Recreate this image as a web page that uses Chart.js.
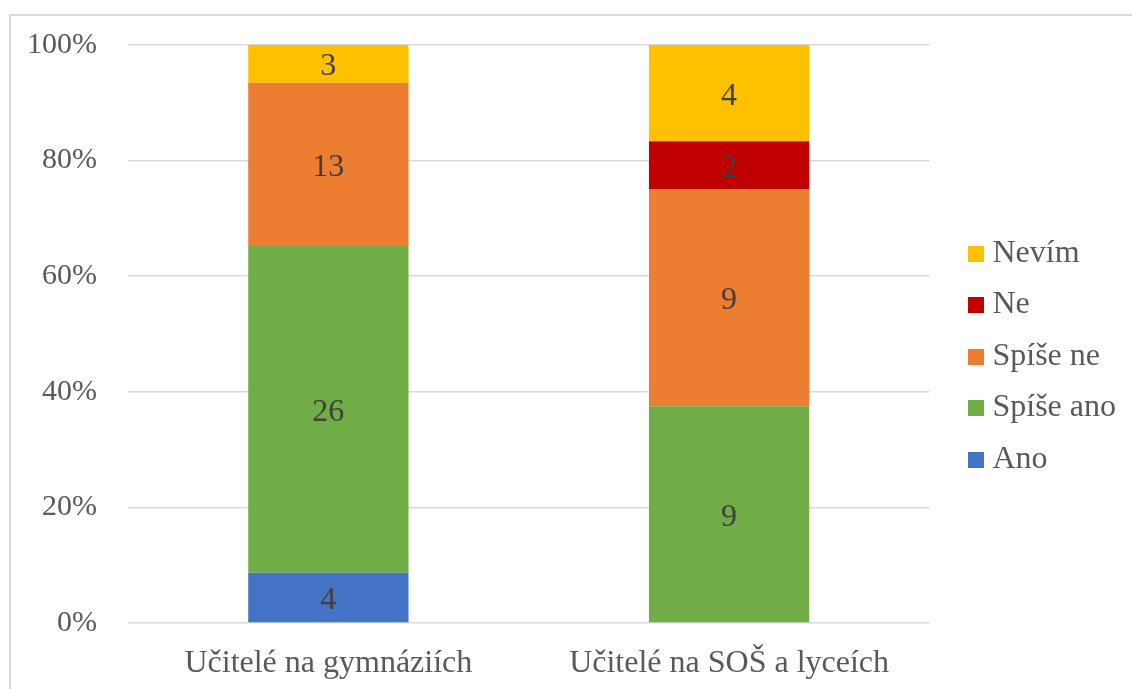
<!DOCTYPE html>
<html>
<head>
<meta charset="utf-8">
<script src="https://cdn.jsdelivr.net/npm/chart.js@4"></script>
<style>
html,body{margin:0;padding:0;background:#fff;overflow:hidden;}
#wrap{position:relative;width:1132px;height:689px;}
#frame{position:absolute;left:9px;top:14px;width:1140px;height:700px;border:2px solid #d9d9d9;box-sizing:border-box;pointer-events:none;}
canvas{position:absolute;left:0;top:0;}
</style>
</head>
<body>
<div id="wrap">
<canvas id="c" width="1132" height="689"></canvas>
<div id="frame"></div>
</div>
<script>
const categories = ["Učitelé na gymnáziích", "Učitelé na SOŠ a lyceích"];
const seriesNames = ["Ano", "Spíše ano", "Spíše ne", "Ne", "Nevím"];
const ano = [4, 0];
const spiseAno = [26, 9];
const spiseNe = [13, 9];
const ne = [0, 2];
const nevim = [3, 4];
const yTicks = [0, 20, 40, 60, 80, 100];
const colors = ["#4472C4", "#70AD47", "#ED7D31", "#C00000", "#FFC000"];

const counts = [ano, spiseAno, spiseNe, ne, nevim];
const totals = categories.map((_, i) => counts.reduce((s, arr) => s + arr[i], 0));

const FONT = "'Liberation Serif', 'Times New Roman', serif";

function swatch(color) {
  const cv = document.createElement('canvas');
  cv.width = 16; cv.height = 16;
  const g = cv.getContext('2d');
  g.fillStyle = color;
  g.fillRect(0, 0, 16, 16);
  return cv;
}

const dataLabels = {
  id: 'dataLabels',
  afterDatasetsDraw(chart) {
    const ctx = chart.ctx;
    ctx.save();
    ctx.font = "32px " + FONT;
    ctx.fillStyle = "#404040";
    ctx.textAlign = "center";
    ctx.textBaseline = "middle";
    chart.data.datasets.forEach((ds, di) => {
      const meta = chart.getDatasetMeta(di);
      meta.data.forEach((el, i) => {
        const v = ds.counts[i];
        if (!v) return;
        ctx.fillText(String(v), el.x, (el.y + el.base) / 2 + 3);
      });
    });
    ctx.restore();
  }
};

const legendShift = {
  id: 'legendShift',
  afterLayout(chart) {
    const lg = chart.legend;
    const dx = chart.chartArea.right + 27 - lg.left;
    lg.left += dx; lg.right += dx;
    lg.top -= 6; lg.bottom -= 6;
  }
};

new Chart(document.getElementById('c'), {
  type: 'bar',
  data: {
    labels: categories,
    datasets: seriesNames.map((name, k) => ({
      label: name,
      counts: counts[k],
      data: counts[k].map((v, i) => v / totals[i] * 100),
      backgroundColor: colors[k],
      borderWidth: 0,
      barPercentage: 0.4,
      categoryPercentage: 1.0
    }))
  },
  options: {
    responsive: false,
    animation: false,
    devicePixelRatio: 1,
    layout: { padding: { top: 45, bottom: 9, left: 0, right: 33 } },
    plugins: {
      legend: {
        position: 'right',
        reverse: true,
        labels: {
          usePointStyle: true,
          pointStyleWidth: 0.5,
          boxHeight: 16,
          padding: 19.5,
          color: '#595959',
          font: { family: FONT, size: 32 },
          generateLabels(chart) {
            const items = Chart.defaults.plugins.legend.labels.generateLabels(chart);
            items.forEach(it => { it.pointStyle = swatch(it.fillStyle); });
            return items;
          }
        }
      },
      tooltip: { enabled: false }
    },
    scales: {
      x: {
        stacked: true,
        afterFit(scale) { scale.height = 57; },
        grid: { display: false, drawTicks: false },
        border: { display: false },
        ticks: { color: '#595959', padding: 21, maxRotation: 0, font: { family: FONT, size: 32 } }
      },
      y: {
        stacked: true,
        min: 0, max: 100,
        afterFit(scale) { scale.width = 128; scale.paddingTop = 0; scale.paddingBottom = 0; },
        afterBuildTicks(scale) { scale.ticks = yTicks.map(v => ({ value: v })); },
        grid: { color: '#d9d9d9', lineWidth: 1.5, drawTicks: false },
        border: { display: false },
        ticks: {
          color: '#595959', padding: 31,
          font: { family: FONT, size: 30 },
          callback: v => v + '%'
        }
      }
    }
  },
  plugins: [dataLabels, legendShift]
});
</script>
</body>
</html>
